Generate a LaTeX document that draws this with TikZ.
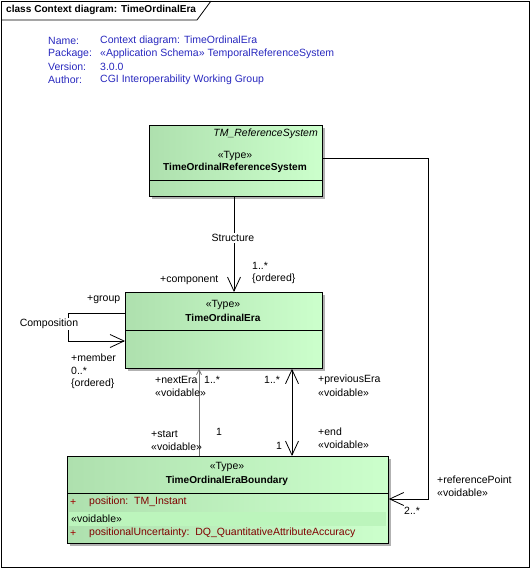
\documentclass[tikz,border=0pt]{standalone}
\usepackage{fontspec}
\setmainfont{Liberation Sans}
\usetikzlibrary{arrows.meta, positioning, shadows}

\definecolor{eablue}{RGB}{40,40,190}
\definecolor{greenlight}{RGB}{204,255,204}
\definecolor{greendark}{RGB}{174,224,174}
\definecolor{greenband}{RGB}{188,245,188}
\definecolor{attrred}{RGB}{128,0,0}
\definecolor{plusred}{RGB}{160,0,0}

\tikzset{
  classbox/.style={draw, line width=0.8pt, left color=greendark, right color=greenlight,
                   drop shadow={shadow xshift=3pt, shadow yshift=-3pt, fill=black!30, opacity=1},
                   anchor=north west, inner sep=0pt},
  rolelabel/.style={anchor=west, inner sep=0pt, align=left},
  openhead/.style={-{Straight Barb[length=14pt, width=13pt]}},
  assoc/.style={line width=0.8pt},
  boldname/.style={inner sep=0pt, font=\fontsize{10.1}{12}\selectfont\bfseries},
}

\begin{document}
\begin{tikzpicture}[x=1pt, y=-1pt, font=\fontsize{10.5}{12.8}\selectfont]
	\useasboundingbox (0,0) rectangle (531,569);
	% frame and title tab
	\draw[line width=0.8pt] (1,1) rectangle (529,567);
	\draw[line width=0.8pt] (1,20) -- (197,20) -- (211,1);
	\node[anchor=west, boldname] (title) at (6,10) {class Context diagram: TimeOrdinalEra};

	% diagram notes
	\begin{scope}[every node/.style={anchor=west, inner sep=0pt, text=eablue}]
		\node (nameK) at (48,41) {Name:};
		\node (packK) at (48,54) {Package:};
		\node (versK) at (48,67) {Version:};
		\node (authK) at (48,80) {Author:};
		\node (nameV) at (100,41) {Context diagram: TimeOrdinalEra};
		\node (packV) at (100,54) {«Application Schema» TemporalReferenceSystem};
		\node (versV) at (100,67) {3.0.0};
		\node (authV) at (100,80) {CGI Interoperability Working Group};
	\end{scope}

	% classes
	\node[classbox, minimum width=173pt, minimum height=71pt] (trs) at (149,125) {};
	\draw[line width=0.8pt] (trs.west |- 0,180) -- (trs.east |- 0,180);
	\node[anchor=east, inner sep=0pt, font=\fontsize{10.5}{12}\selectfont\itshape] (trsP) at (318,134) {TM\_ReferenceSystem};
	\node[inner sep=0pt] (trsS) at (235,156) {«Type»};
	\node[boldname] (trsN) at (235,168) {TimeOrdinalReferenceSystem};

	\node[classbox, minimum width=197pt, minimum height=76pt] (era) at (125,292) {};
	\draw[line width=0.8pt] (era.west |- 0,330) -- (era.east |- 0,330);
	\node[inner sep=0pt] (eraS) at (223,305) {«Type»};
	\node[boldname] (eraN) at (223,318) {TimeOrdinalEra};

	\node[classbox, minimum width=321pt, minimum height=87pt] (bnd) at (67,456) {};
	\draw[line width=0.8pt] (bnd.west |- 0,493) -- (bnd.east |- 0,493);
	\fill[greenband] (69,512) rectangle (386,526);
	\node[inner sep=0pt] (bndS) at (227,467) {«Type»};
	\node[boldname] (bndN) at (227,481) {TimeOrdinalEraBoundary};
	\node[rolelabel, text=plusred] (posP) at (70,502) {+};
	\node[rolelabel, text=attrred] (pos) at (89,502) {position:\ \ TM\_Instant};
	\node[rolelabel] (bndV) at (71,519) {«voidable»};
	\node[rolelabel, text=plusred] (uncP) at (70,533) {+};
	\node[rolelabel, text=attrred] (unc) at (89,533) {positionalUncertainty:\ \ DQ\_QuantitativeAttributeAccuracy};

	% associations
	\draw[assoc, openhead] (234,0 |- trs.south) -- (234,0 |- era.north);
	\node[fill=white, inner sep=1pt] (struct) at (233,238) {Structure};
	\node[rolelabel] (compR) at (160,280) {+component};
	\node[rolelabel] (compM) at (252,266) {1..*};
	\node[rolelabel] (compO) at (252,279) {\{ordered\}};

	\draw[assoc, openhead] (era.west |- 0,313) -- (68,313) -- (68,341) -- (era.west |- 0,341);
	\node[fill=white, inner sep=1pt] (comp) at (49,324) {Composition};
	\node[rolelabel] (groupR) at (87,300) {+group};
	\node[rolelabel] (membR) at (71,358) {+member};
	\node[rolelabel] (membM) at (71,371) {0..*};
	\node[rolelabel] (membO) at (71,384) {\{ordered\}};

	\draw[assoc, draw=black!55, -{Straight Barb[length=5pt, width=5pt]}] (199,0 |- bnd.north) -- (199,0 |- era.south);
	\node[rolelabel] (nextR) at (155,380) {+nextEra};
	\node[rolelabel] (nextM) at (204,380) {1..*};
	\node[rolelabel] (nextV) at (155,393) {«voidable»};
	\node[rolelabel] (startR) at (151,434) {+start};
	\node[rolelabel] (startV) at (151,447) {«voidable»};
	\node[rolelabel] (startM) at (216,432) {1};

	\draw[assoc, {Straight Barb[length=14pt, width=13pt]}-{Straight Barb[length=14pt, width=13pt]}] (292,0 |- bnd.north) -- (292,0 |- era.south);
	\node[rolelabel] (prevM) at (264,380) {1..*};
	\node[rolelabel] (prevR) at (318,380) {+previousEra};
	\node[rolelabel] (prevV) at (318,393) {«voidable»};
	\node[rolelabel] (endR) at (318,432) {+end};
	\node[rolelabel] (endV) at (318,445) {«voidable»};
	\node[rolelabel] (endM) at (276,446) {1};

	\draw[assoc, openhead] (trs.east |- 0,158) -- (428,158) -- (428,499) -- (bnd.east |- 0,499);
	\node[rolelabel] (refR) at (437,480) {+referencePoint};
	\node[rolelabel] (refV) at (437,493) {«voidable»};
	\node[rolelabel] (refM) at (404,511) {2..*};
\end{tikzpicture}
\end{document}
